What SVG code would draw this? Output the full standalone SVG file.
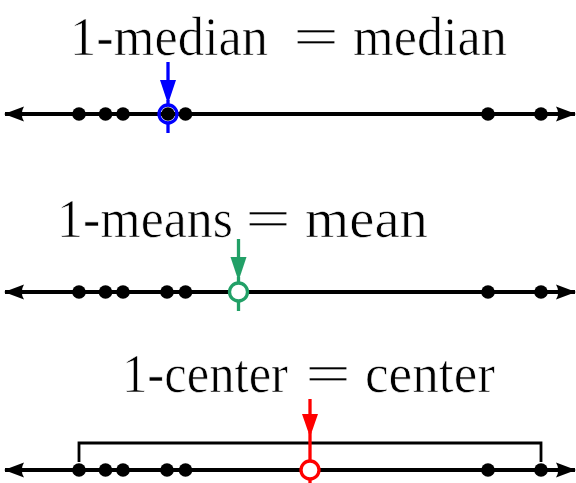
<svg xmlns="http://www.w3.org/2000/svg" width="576" height="483" viewBox="0 0 576 483">
<defs>
<style>
.lbl{font-family:"Liberation Serif","DejaVu Serif",serif;font-size:54px;fill:#000;stroke:#fff;stroke-width:0.7}
.axis{stroke:#000;stroke-width:4;fill:none}
.dot{fill:#000}
.br{stroke:#000;stroke-width:2.8;fill:none}
.stem{stroke-width:3.3}
.ring{stroke-width:3.3}
</style>
<marker id="ah" viewBox="0 0 20 20" refX="19" refY="10" markerWidth="20" markerHeight="20" markerUnits="userSpaceOnUse" orient="auto-start-reverse">
<path d="M0,2.5 L20,10 L0,17.5 Q4.5,10 0,2.5 Z" fill="#000"/>
</marker>
</defs>
<rect width="576" height="483" fill="#fff"/>

<g id="labels">
<text class="lbl" x="70" y="55" textLength="198" lengthAdjust="spacingAndGlyphs">1-median</text>
<text class="lbl" x="293" y="55" textLength="46" lengthAdjust="spacingAndGlyphs">=</text>
<text class="lbl" x="353" y="55" textLength="154" lengthAdjust="spacingAndGlyphs">median</text>

<text class="lbl" x="57" y="237" textLength="176" lengthAdjust="spacingAndGlyphs">1-means</text>
<text class="lbl" x="245" y="237" textLength="46" lengthAdjust="spacingAndGlyphs">=</text>
<text class="lbl" x="305" y="237" textLength="123" lengthAdjust="spacingAndGlyphs">mean</text>

<text class="lbl" x="122" y="392" textLength="166" lengthAdjust="spacingAndGlyphs">1-center</text>
<text class="lbl" x="305" y="392" textLength="46" lengthAdjust="spacingAndGlyphs">=</text>
<text class="lbl" x="365" y="392" textLength="130" lengthAdjust="spacingAndGlyphs">center</text>
</g>

<g id="connectors">
<line class="axis" x1="5" y1="114" x2="575" y2="114" marker-start="url(#ah)" marker-end="url(#ah)"/>
<line class="axis" x1="5" y1="292" x2="575" y2="292" marker-start="url(#ah)" marker-end="url(#ah)"/>
<line class="axis" x1="5" y1="470" x2="575" y2="470" marker-start="url(#ah)" marker-end="url(#ah)"/>
<polyline class="br" points="79,462 79,443 541,443 541,462"/>
</g>

<g id="line1-points">
<circle class="dot" cx="79" cy="114" r="6.8"/>
<circle class="dot" cx="105.5" cy="114" r="6.8"/>
<circle class="dot" cx="123" cy="114" r="6.8"/>
<circle class="dot" cx="168" cy="114" r="6.8"/>
<circle class="dot" cx="185.5" cy="114" r="6.8"/>
<circle class="dot" cx="488" cy="114" r="6.8"/>
<circle class="dot" cx="541" cy="114" r="6.8"/>
</g>
<g id="median-marker" stroke="#0000ff" fill="#0000ff">
<line class="stem" x1="168" y1="62" x2="168" y2="90"/>
<path d="M160,80 L176,80 L168,104 Z" stroke="none"/>
<line class="stem" x1="168" y1="100" x2="168" y2="106"/>
<line class="stem" x1="168" y1="123" x2="168" y2="133"/>
<circle class="ring" cx="168" cy="114" r="9" fill="none"/>
</g>

<g id="line2-points">
<circle class="dot" cx="79" cy="292" r="6.8"/>
<circle class="dot" cx="105.5" cy="292" r="6.8"/>
<circle class="dot" cx="123" cy="292" r="6.8"/>
<circle class="dot" cx="167" cy="292" r="6.8"/>
<circle class="dot" cx="185.5" cy="292" r="6.8"/>
<circle class="dot" cx="488" cy="292" r="6.8"/>
<circle class="dot" cx="541" cy="292" r="6.8"/>
</g>
<g id="mean-marker" stroke="#22a067" fill="#22a067">
<line class="stem" x1="238.5" y1="239" x2="238.5" y2="266"/>
<path d="M230.5,257 L246.5,257 L238.5,281 Z" stroke="none"/>
<line class="stem" x1="238.5" y1="277" x2="238.5" y2="284"/>
<line class="stem" x1="238.5" y1="301" x2="238.5" y2="311"/>
<circle class="ring" cx="238.5" cy="292" r="9" fill="#fff"/>
</g>

<g id="line3-points">
<circle class="dot" cx="79" cy="470" r="6.8"/>
<circle class="dot" cx="105.5" cy="470" r="6.8"/>
<circle class="dot" cx="123" cy="470" r="6.8"/>
<circle class="dot" cx="167" cy="470" r="6.8"/>
<circle class="dot" cx="185.5" cy="470" r="6.8"/>
<circle class="dot" cx="488" cy="470" r="6.8"/>
<circle class="dot" cx="541" cy="470" r="6.8"/>
</g>
<g id="center-marker" stroke="#ff0000" fill="#ff0000">
<line class="stem" x1="310" y1="399" x2="310" y2="425"/>
<path d="M302,414 L318,414 L310,437 Z" stroke="none"/>
<line class="stem" x1="310" y1="432" x2="310" y2="462"/>
<line class="stem" x1="310" y1="479" x2="310" y2="483"/>
<circle class="ring" cx="310" cy="470" r="9" fill="#fff"/>
</g>
</svg>
